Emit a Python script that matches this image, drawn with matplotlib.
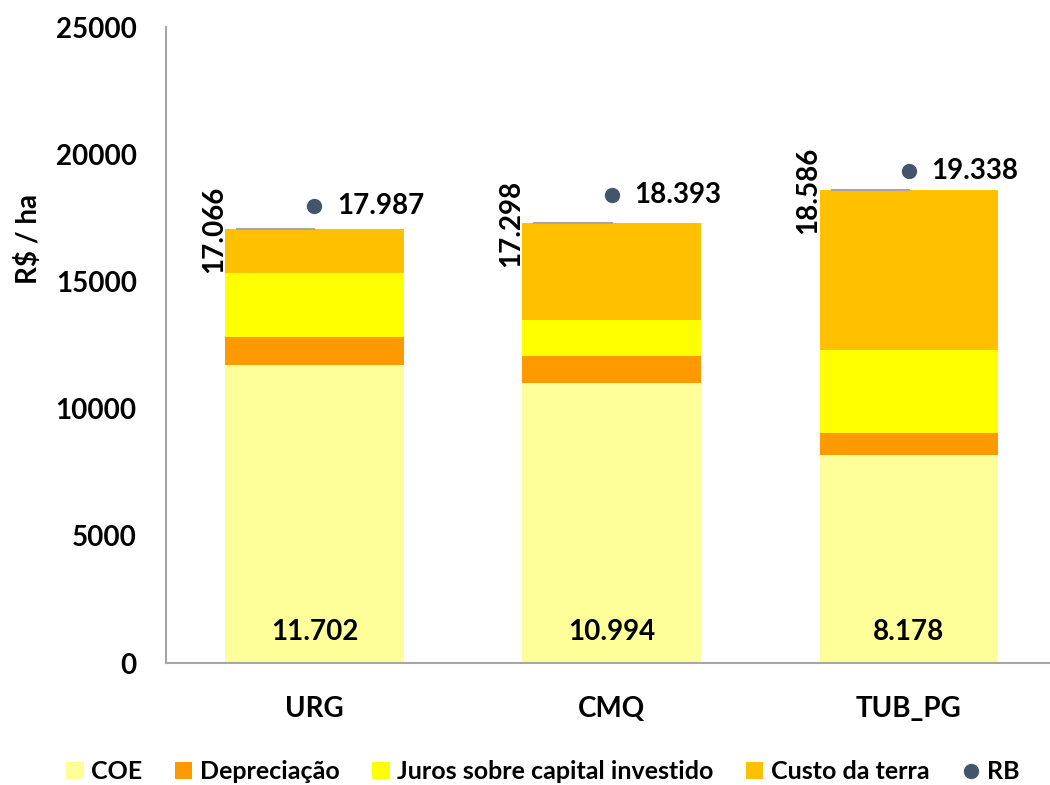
import numpy as np
import matplotlib.pyplot as plt
from matplotlib.lines import Line2D
from matplotlib.patches import Patch

# data
categorias = ['URG', 'CMQ', 'TUB_PG']
coe = [11702, 10994, 8178]
depreciacao = [1130, 1060, 850]
juros = [2500, 1440, 3270]
custo_terra = [1734, 3804, 6288]
totais = [17066, 17298, 18586]
rb = [17987, 18393, 19338]

series_nomes = ['COE', 'Depreciação', 'Juros sobre capital investido', 'Custo da terra']
cores = ['#FFFF99', '#FF9900', '#FFFF00', '#FFC000']
cor_rb = '#44546A'

plt.rcParams['font.family'] = ['Lato', 'DejaVu Sans']
plt.rcParams['font.weight'] = 'bold'

#==================================================================
def fmt_br(v):
    return f'{v:,.0f}'.replace(',', '.')

#==================================================================
def plot_chart():
    fig = plt.figure(figsize=(10.5, 7.85), dpi=100)
    ax = fig.add_axes([0.158, 0.1554, 0.849, 0.810])

    x = np.arange(len(categorias))
    w = 0.6
    base = np.zeros(len(categorias))
    for vals, cor in zip([coe, depreciacao, juros, custo_terra], cores):
        ax.bar(x, vals, w, bottom=base, color=cor, edgecolor='none', zorder=2)
        base = base + np.array(vals)

    ax.plot(x, rb, 'o', color=cor_rb, markersize=10, zorder=4)
    for i in x:
        ax.text(i + 0.075, rb[i], fmt_br(rb[i]), ha='left', va='center',
                fontsize=20, fontweight='bold')
        ax.text(i, 0, fmt_br(coe[i]) + '\n', ha='center', va='bottom',
                fontsize=20, fontweight='bold', linespacing=0.6)
        ax.text(i - w / 2 - 0.037, totais[i], fmt_br(totais[i]), rotation=90,
                ha='center', va='center', fontsize=20, fontweight='bold')
        ax.plot([i - 0.26, i], [totais[i], totais[i]], color='#A6A6A6',
                lw=1.5, zorder=3)

    ax.set_xlim(-0.5, 2.5)
    ax.set_ylim(0, 25000)
    ax.set_yticks(np.arange(0, 25001, 5000))
    ax.set_xticks(x)
    ax.set_xticklabels(categorias)
    ax.tick_params(axis='both', length=0, labelsize=20)
    ax.tick_params(axis='y', pad=21)
    ax.tick_params(axis='x', pad=24)
    for s in ['top', 'right']:
        ax.spines[s].set_visible(False)
    for s in ['left', 'bottom']:
        ax.spines[s].set_color('#A6A6A6')
        ax.spines[s].set_linewidth(1.5)

    fig.text(28 / 1050, 1 - 239 / 785, 'R$ / ha', rotation=90, ha='center',
             va='center', fontsize=20, fontweight='bold')

    handles = [Patch(facecolor=c, edgecolor='none') for c in cores]
    handles.append(Line2D([], [], marker='o', ls='none', color=cor_rb, markersize=10))
    fig.legend(handles, series_nomes + ['RB'], loc='center', ncol=5,
               bbox_to_anchor=(0.517, 0.0166), frameon=False, fontsize=18,
               handlelength=0.7, handleheight=0.7, handletextpad=0.3,
               columnspacing=1.3, borderpad=0)

    fig.savefig('out.png', dpi=100)

#==================================================================
if __name__ == "__main__":
    plot_chart()
